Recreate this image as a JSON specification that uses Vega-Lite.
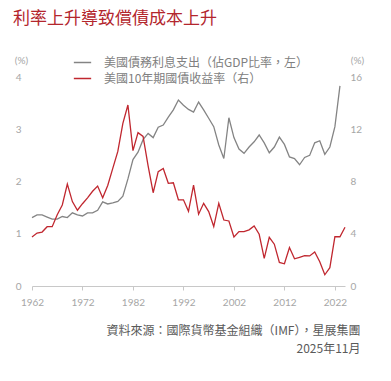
{
  "$schema": "https://vega.github.io/schema/vega-lite/v6.json",
  "width": 313,
  "height": 209,
  "autosize": {"type": "none"},
  "padding": {"left": 32, "top": 77, "right": 46, "bottom": 95},
  "background": "white",
  "config": {
    "view": {"stroke": null},
    "font": "Noto Sans CJK TC"
  },
  "title": {
    "text": "利率上升導致償債成本上升",
    "anchor": "start",
    "frame": "group",
    "dx": -19,
    "fontSize": 17,
    "fontWeight": "normal",
    "color": "#b3262d",
    "font": "Noto Sans CJK TC",
    "offset": 25
  },
  "data": {
    "values": [
      {"year": 1962, "interest": 1.31, "yield": 3.75},
      {"year": 1963, "interest": 1.36, "yield": 4.05},
      {"year": 1964, "interest": 1.36, "yield": 4.13},
      {"year": 1965, "interest": 1.32, "yield": 4.54},
      {"year": 1966, "interest": 1.28, "yield": 4.54},
      {"year": 1967, "interest": 1.28, "yield": 5.45},
      {"year": 1968, "interest": 1.33, "yield": 6.2},
      {"year": 1969, "interest": 1.31, "yield": 7.8},
      {"year": 1970, "interest": 1.40, "yield": 6.46},
      {"year": 1971, "interest": 1.36, "yield": 5.8},
      {"year": 1972, "interest": 1.34, "yield": 6.3},
      {"year": 1973, "interest": 1.40, "yield": 6.75},
      {"year": 1974, "interest": 1.40, "yield": 7.25},
      {"year": 1975, "interest": 1.45, "yield": 7.65},
      {"year": 1976, "interest": 1.61, "yield": 6.75},
      {"year": 1977, "interest": 1.57, "yield": 7.7},
      {"year": 1978, "interest": 1.59, "yield": 9.0},
      {"year": 1979, "interest": 1.62, "yield": 10.3},
      {"year": 1980, "interest": 1.72, "yield": 12.45},
      {"year": 1981, "interest": 2.05, "yield": 13.86},
      {"year": 1982, "interest": 2.42, "yield": 10.36},
      {"year": 1983, "interest": 2.56, "yield": 11.74},
      {"year": 1984, "interest": 2.80, "yield": 11.45},
      {"year": 1985, "interest": 2.92, "yield": 9.2},
      {"year": 1986, "interest": 2.84, "yield": 7.14},
      {"year": 1987, "interest": 3.04, "yield": 8.75},
      {"year": 1988, "interest": 3.08, "yield": 9.0},
      {"year": 1989, "interest": 3.23, "yield": 7.86},
      {"year": 1990, "interest": 3.37, "yield": 7.9},
      {"year": 1991, "interest": 3.56, "yield": 6.6},
      {"year": 1992, "interest": 3.46, "yield": 6.6},
      {"year": 1993, "interest": 3.38, "yield": 5.72},
      {"year": 1994, "interest": 3.33, "yield": 7.72},
      {"year": 1995, "interest": 3.52, "yield": 5.5},
      {"year": 1996, "interest": 3.37, "yield": 6.33},
      {"year": 1997, "interest": 3.21, "yield": 5.7},
      {"year": 1998, "interest": 3.05, "yield": 4.55},
      {"year": 1999, "interest": 2.70, "yield": 6.33},
      {"year": 2000, "interest": 2.44, "yield": 5.05},
      {"year": 2001, "interest": 3.22, "yield": 4.98},
      {"year": 2002, "interest": 2.84, "yield": 3.75},
      {"year": 2003, "interest": 2.62, "yield": 4.16},
      {"year": 2004, "interest": 2.54, "yield": 4.16},
      {"year": 2005, "interest": 2.66, "yield": 4.3},
      {"year": 2006, "interest": 2.76, "yield": 4.6},
      {"year": 2007, "interest": 2.89, "yield": 3.96},
      {"year": 2008, "interest": 2.74, "yield": 2.12},
      {"year": 2009, "interest": 2.55, "yield": 3.73},
      {"year": 2010, "interest": 2.66, "yield": 3.2},
      {"year": 2011, "interest": 2.85, "yield": 1.8},
      {"year": 2012, "interest": 2.71, "yield": 1.7},
      {"year": 2013, "interest": 2.47, "yield": 2.94},
      {"year": 2014, "interest": 2.44, "yield": 2.08},
      {"year": 2015, "interest": 2.32, "yield": 2.2},
      {"year": 2016, "interest": 2.46, "yield": 2.32},
      {"year": 2017, "interest": 2.50, "yield": 2.3},
      {"year": 2018, "interest": 2.74, "yield": 2.6},
      {"year": 2019, "interest": 2.78, "yield": 1.86},
      {"year": 2020, "interest": 2.52, "yield": 0.86},
      {"year": 2021, "interest": 2.66, "yield": 1.4},
      {"year": 2022, "interest": 3.05, "yield": 3.77},
      {"year": 2023, "interest": 3.83, "yield": 3.77},
      {"year": 2024, "interest": null, "yield": 4.5}
    ]
  },
  "encoding": {
    "x": {
      "field": "year",
      "type": "quantitative",
      "scale": {"domain": [1962, 2024], "nice": false, "zero": false},
      "axis": {
        "values": [1962, 1972, 1982, 1992, 2002, 2012, 2022],
        "format": "d",
        "grid": false,
        "labelFlush": false,
        "domainColor": "#c8c8c8",
        "tickColor": "#c8c8c8",
        "tickSize": 4,
        "labelColor": "#a6a6a6",
        "labelFontSize": 10,
        "labelFont": "Lato",
        "labelPadding": 7,
        "title": ["資料來源：國際貨幣基金組織（IMF），星展集團", "2025年11月"],
        "titleFontSize": 12,
        "titleFontWeight": "normal",
        "titleColor": "#5a5a5a",
        "titleFont": "Noto Sans CJK TC",
        "titleAlign": "right",
        "titleAnchor": "end",
        "titleX": 328,
        "titleY": 48,
        "titleBaseline": "alphabetic",
        "titleLineHeight": 18
      }
    }
  },
  "layer": [
    {
      "mark": {"type": "line", "strokeWidth": 1.3},
      "encoding": {
        "y": {
          "field": "interest",
          "type": "quantitative",
          "scale": {"domain": [0, 4], "nice": false},
          "axis": {
            "orient": "left",
            "values": [0, 1, 2, 3, 4],
            "grid": false,
            "domain": false,
            "ticks": false,
            "labelColor": "#a6a6a6",
            "labelFontSize": 10,
            "labelFont": "Lato",
            "labelPadding": 11,
            "title": "(%)",
            "titleAngle": 0,
            "titleFontSize": 10,
            "titleFontWeight": "normal",
            "titleColor": "#a6a6a6",
            "titleFont": "Lato",
            "titleX": -11,
            "titleY": -17,
            "titleAlign": "center",
            "titleBaseline": "middle"
          }
        },
        "color": {
          "datum": "美國債務利息支出（佔GDP比率，左）",
          "scale": {
            "domain": ["美國債務利息支出（佔GDP比率，左）", "美國10年期國債收益率（右）"],
            "range": ["#848484", "#c0272f"]
          },
          "legend": {
            "orient": "none",
            "legendX": 41,
            "legendY": -24,
            "title": null,
            "symbolType": "stroke",
            "symbolSize": 300,
            "symbolStrokeWidth": 1.5,
            "labelFontSize": 12,
            "labelColor": "#808080",
            "labelFont": "Noto Sans CJK TC",
            "labelOffset": 12,
            "rowPadding": -2,
            "labelLimit": 300
          }
        }
      }
    },
    {
      "mark": {"type": "line", "strokeWidth": 1.3},
      "encoding": {
        "y": {
          "field": "yield",
          "type": "quantitative",
          "scale": {"domain": [0, 16], "nice": false},
          "axis": {
            "orient": "right",
            "values": [0, 4, 8, 12, 16],
            "grid": false,
            "domain": false,
            "ticks": false,
            "labelColor": "#a6a6a6",
            "labelFontSize": 10,
            "labelFont": "Lato",
            "labelPadding": 5,
            "title": "(%)",
            "titleAngle": 0,
            "titleFontSize": 10,
            "titleFontWeight": "normal",
            "titleColor": "#a6a6a6",
            "titleFont": "Lato",
            "titleX": 12,
            "titleY": -17,
            "titleAlign": "center",
            "titleBaseline": "middle"
          }
        },
        "color": {"datum": "美國10年期國債收益率（右）"}
      }
    }
  ],
  "resolve": {"scale": {"y": "independent"}}
}
